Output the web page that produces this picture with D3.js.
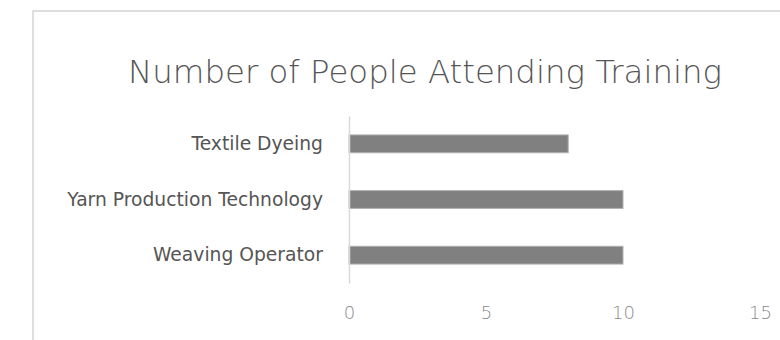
<!DOCTYPE html>
<html>
<head>
<meta charset="utf-8">
<script src="https://cdn.jsdelivr.net/npm/d3@7"></script>
<style>
  html, body { margin: 0; padding: 0; background: #fff; }
  svg { display: block; }
</style>
</head>
<body>
<svg id="chart" width="780" height="340"></svg>
<script>
// Training courses and attendance counts
const categories = ["Textile Dyeing", "Yarn Production Technology", "Weaving Operator"];
const attendees = [8, 10, 10];
const tickValues = [0, 5, 10, 15];
const chartTitle = "Number of People Attending Training";

const svg = d3.select("#chart");
const fontFamily = "'DejaVu Sans', 'Open Sans', sans-serif";

// Resize a text node so its rendered width equals the given width
function fitWidth(sel, width) {
  sel.each(function () {
    const base = parseFloat(this.getAttribute("font-size"));
    const w = this.getComputedTextLength();
    if (w > 0) this.setAttribute("font-size", (base * width / w).toFixed(2));
  });
}

// Card outline
svg.append("rect")
  .attr("x", 33).attr("y", 11)
  .attr("width", 800).attr("height", 400)
  .attr("fill", "#fff")
  .attr("stroke", "#d4d4d4")
  .attr("stroke-width", 1.5);

// Title
const title = svg.append("text")
  .attr("x", 425).attr("y", 72)
  .attr("text-anchor", "middle")
  .attr("dominant-baseline", "central")
  .attr("font-family", fontFamily)
  .attr("font-weight", 200)
  .attr("font-size", 28)
  .attr("fill", "#555")
  .text(chartTitle);
fitWidth(title, 594);

const x = d3.scaleLinear().domain([0, 15]).range([349, 760]);
const y = d3.scaleBand().domain(categories).range([116, 283])
  .paddingInner(0.68).paddingOuter(0.34);

// Bars
svg.append("g").selectAll("rect")
  .data(categories)
  .join("rect")
  .attr("x", x(0))
  .attr("y", d => y(d))
  .attr("width", (d, i) => x(attendees[i]) - x(0))
  .attr("height", y.bandwidth())
  .attr("fill", "#808080")
  .attr("stroke", "#b0b0b0")
  .attr("stroke-width", 1);

// Category axis (vertical baseline)
const yAxis = svg.append("g")
  .attr("transform", `translate(${x(0)},0)`)
  .call(d3.axisLeft(y).tickSize(0).tickPadding(26));
yAxis.select(".domain").attr("stroke", "#d9d9d9").attr("stroke-width", 1.5);
const yLabels = yAxis.selectAll("text")
  .attr("font-family", fontFamily)
  .attr("font-weight", 400)
  .attr("font-size", 15)
  .attr("fill", "#555");
// Scale all category labels by the ratio that fits the longest one
const longest = yLabels.filter(d => d === "Yarn Production Technology").node();
const ratio = 256 / longest.getComputedTextLength();
yLabels.attr("font-size", (15 * ratio).toFixed(2));

// Value axis (labels only)
const xAxis = svg.append("g")
  .attr("transform", "translate(0,306)")
  .call(d3.axisBottom(x).tickValues(tickValues).tickSize(0).tickPadding(0));
xAxis.select(".domain").remove();
xAxis.selectAll("text")
  .attr("font-family", fontFamily)
  .attr("font-size", 18)
  .attr("font-weight", 200)
  .attr("fill", "#8a8a8a");
</script>
</body>
</html>
